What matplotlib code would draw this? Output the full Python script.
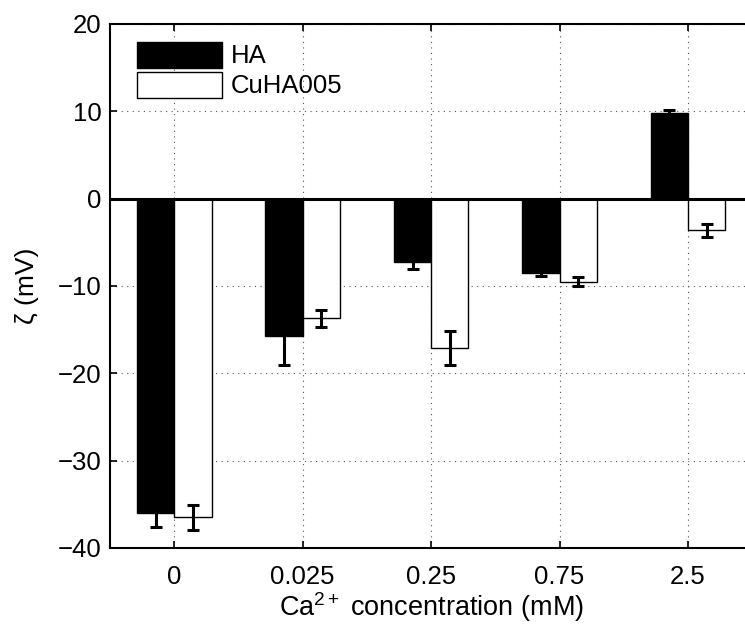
import numpy as np
import matplotlib
matplotlib.use('Agg')
import matplotlib.pyplot as plt

plt.rcParams['font.family'] = ['Liberation Sans', 'DejaVu Sans']
plt.rcParams['mathtext.fontset'] = 'custom'
plt.rcParams['mathtext.rm'] = 'Liberation Sans'
plt.rcParams['mathtext.it'] = 'Liberation Sans:italic'

# data
categories = ['0', '0.025', '0.25', '0.75', '2.5']
ha_values = [-36.0, -15.7, -7.25, -8.5, 9.8]
ha_err = [1.6, 3.4, 0.85, 0.4, 0.35]
cuha_values = [-36.5, -13.7, -17.1, -9.5, -3.65]
cuha_err = [1.45, 0.95, 1.9, 0.55, 0.7]
series_names = ['HA', 'CuHA005']


def main():
    fig = plt.figure(figsize=(7.45, 6.27), dpi=100)
    ax = fig.add_axes([0.1477, 0.126, 0.862, 0.836])

    x = np.arange(len(categories))
    w = 0.29

    ax.bar(x - w / 2, ha_values, w, color='black', edgecolor='black',
           linewidth=1, label=series_names[0], zorder=2)
    ax.bar(x + w / 2, cuha_values, w, color='white', edgecolor='black',
           linewidth=1, label=series_names[1], zorder=2)

    ekw = dict(fmt='none', ecolor='black', elinewidth=2.2, capsize=4.5,
               capthick=2.2, zorder=3)
    ax.errorbar(x - w / 2, ha_values, yerr=ha_err, **ekw)
    ax.errorbar(x + w / 2, cuha_values, yerr=cuha_err, **ekw)

    ax.axhline(0, color='black', linewidth=2.2, zorder=4)

    ax.set_xlim(-0.5, 4.5)
    ax.set_ylim(-40, 20)
    ax.set_xticks(x)
    ax.set_xticklabels(categories)
    ax.set_yticks(np.arange(-40, 21, 10))

    ax.grid(True, linestyle=(0, (1, 4)), color='#555555', linewidth=0.8, zorder=0)
    ax.set_axisbelow(True)
    ax.tick_params(direction='in', labelsize=18.5, length=5, width=1.2,
                   top=True, right=True)
    ax.tick_params(axis='x', pad=12)
    ax.tick_params(axis='y', pad=6)
    for s in ax.spines.values():
        s.set_linewidth(1.5)

    ax.set_xlabel('Ca$^{2+}$ concentration (mM)', fontsize=19.5, labelpad=1)
    ax.set_ylabel('ζ (mV)', fontsize=19, labelpad=14)

    ax.legend(loc='upper left', bbox_to_anchor=(0.042, 0.966), frameon=False,
              fontsize=18.5, handlelength=3.3, handleheight=1.2,
              handletextpad=0.35, labelspacing=0.12, borderaxespad=0,
              borderpad=0)

    fig.savefig('out.png', dpi=100)


if __name__ == '__main__':
    main()
